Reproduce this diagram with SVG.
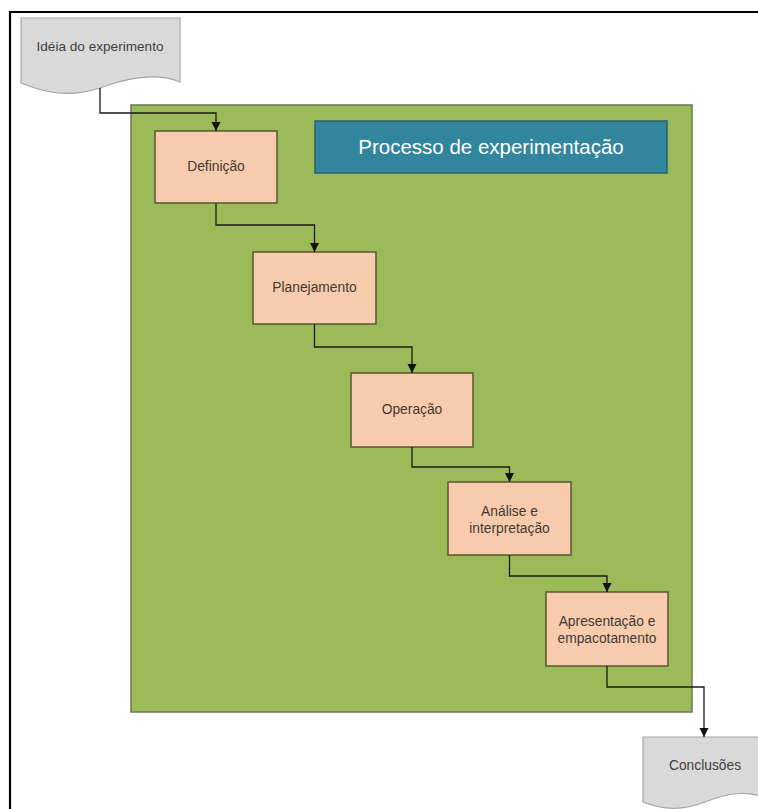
<svg xmlns="http://www.w3.org/2000/svg" width="758" height="809" viewBox="0 0 758 809">
<defs>
<marker id="arr" markerWidth="10" markerHeight="10" refX="9" refY="5" orient="auto" markerUnits="userSpaceOnUse">
<path d="M0,0.5 L9,5 L0,9.5 Z" fill="#111"/>
</marker>
<style>
.frame{fill:none;stroke:#000;stroke-width:2.2}
.container{fill:#9BBB59;stroke:#6B7A52;stroke-width:1.5}
.title{fill:#31859C;stroke:#2A5F6E;stroke-width:1.5}
.titletxt{font-family:"Liberation Sans",Arial,sans-serif;font-size:20.5px;fill:#fff;text-anchor:middle}
.step{fill:#F8CBAD;stroke:#5B5535;stroke-width:1.5}
.lbl{font-family:"Liberation Sans",Arial,sans-serif;font-size:13.8px;fill:#3F3A33;text-anchor:middle}
.doc{fill:#D9D9D9;stroke:#A6A6A6;stroke-width:1.2}
.doctxt{font-family:"Liberation Sans",Arial,sans-serif;font-size:13.6px;fill:#404040;text-anchor:middle}
.conn{fill:none;stroke:#1A1A1A;stroke-width:1.3;marker-end:url(#arr)}
</style>
</defs>
<rect width="758" height="809" fill="#fff"/>
<path class="frame" d="M10,809 V12 H758"/>

<g id="container">
<rect class="container" x="131" y="105" width="561" height="607"/>
</g>

<g id="title">
<rect class="title" x="315" y="121" width="352" height="52"/>
<text class="titletxt" x="491" y="154">Processo de experimentação</text>
</g>

<g id="ideia">
<path class="doc" d="M21,18 H180 V82 C158,73 132,76 100,88 C70,98 45,93 21,83 Z"/>
<text class="doctxt" x="100" y="51">Idéia do experimento</text>
</g>

<g id="definicao">
<rect class="step" x="155" y="131" width="122" height="72"/>
<text class="lbl" x="216" y="171">Definição</text>
</g>

<g id="planejamento">
<rect class="step" x="253" y="252" width="123" height="72"/>
<text class="lbl" x="314.5" y="292">Planejamento</text>
</g>

<g id="operacao">
<rect class="step" x="351" y="373" width="122" height="74"/>
<text class="lbl" x="412" y="414">Operação</text>
</g>

<g id="analise">
<rect class="step" x="448" y="482" width="123" height="73"/>
<text class="lbl" x="509.5" y="516">Análise e</text>
<text class="lbl" x="509.5" y="533">interpretação</text>
</g>

<g id="apresentacao">
<rect class="step" x="546" y="592" width="122" height="74"/>
<text class="lbl" x="607" y="626">Apresentação e</text>
<text class="lbl" x="607" y="643">empacotamento</text>
</g>

<g id="conclusoes">
<path class="doc" d="M643,737 H770 V800 C750,790 730,792 705,802 C680,812 660,809 643,802 Z"/>
<text class="lbl" x="705" y="770" style="font-size:13.8px;fill:#404040">Conclusões</text>
</g>

<g id="connectors">
<path class="conn" d="M100,88 V113 H216 V131"/>
<path class="conn" d="M216,203 V225 H314.5 V252"/>
<path class="conn" d="M314.5,324 V347 H412 V373"/>
<path class="conn" d="M412,447 V467 H509.5 V482"/>
<path class="conn" d="M509.5,555 V576 H607 V592"/>
<path class="conn" d="M607,666 V687 H704 V737"/>
</g>
</svg>
